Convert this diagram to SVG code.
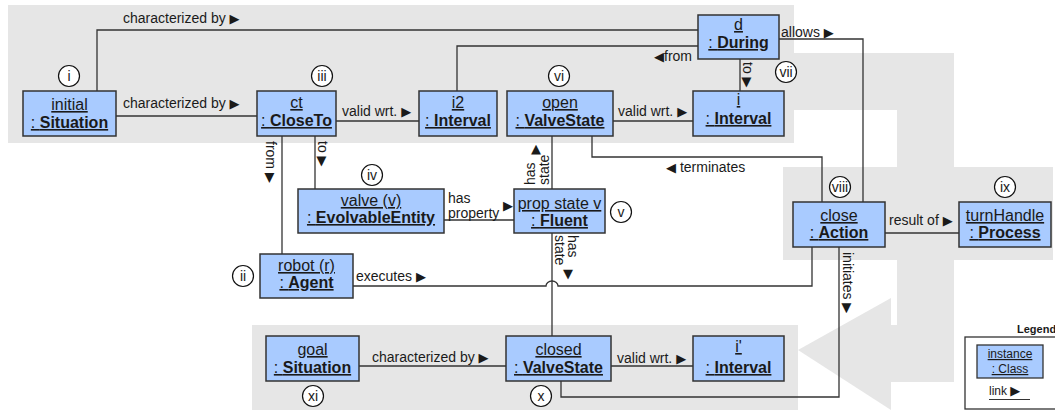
<svg xmlns="http://www.w3.org/2000/svg" width="1055" height="412" viewBox="0 0 1055 412">
<style>
text { font-family: "Liberation Sans", Arial, sans-serif; fill: #1a1a1a; }
.node rect { fill: #a9cbff; stroke: #333; stroke-width: 1.5; }
.node text { font-size: 16px; text-anchor: middle; text-decoration: underline; }
.node .cls { font-weight: bold; }
.node .cls tspan { font-weight: normal; }
.conn path { fill: none; stroke: #333; stroke-width: 1.3; }
.lbl { font-size: 14px; }
.ar { font-family: "DejaVu Sans", sans-serif; font-size: 13px; }
.tag circle { fill: #fff; stroke: #111; stroke-width: 1.2; }
.tag text { font-size: 14px; text-anchor: middle; }
</style>
<g id="background" fill="#e6e6e6">
<rect x="8" y="5" width="786" height="138"/>
<rect x="794" y="53" width="160" height="57"/>
<rect x="897" y="110" width="57" height="272"/>
<rect x="783" y="167" width="270" height="93"/>
<rect x="891" y="325" width="63" height="57"/>
<polygon points="798,350 891,298 891,410"/>
<rect x="252" y="325" width="546" height="85"/>
</g>
<g id="connectors" class="conn">
<path d="M97,91 V30 H698"/>
<path d="M116,116 H257"/>
<path d="M336,121 H419"/>
<path d="M457,91 V46 H698"/>
<path d="M613,121 H693"/>
<path d="M740,59 V91"/>
<path d="M779,39 H863 V202"/>
<path d="M592,136 V157 H822 V202"/>
<path d="M282,136 V254"/>
<path d="M315,136 V189"/>
<path d="M444,220 H514"/>
<path d="M552,136 V189"/>
<path d="M552,233 V336"/>
<path d="M353,286 H546 A6,5 0 0 1 558,286 H812 V247"/>
<path d="M885,233 H959"/>
<path d="M839,247 V397 H561 V381"/>
<path d="M359,366 H506"/>
<path d="M611,366 H693"/>
</g>
<g id="labels">
<text class="lbl" x="123" y="23">characterized by <tspan class="ar">▶</tspan></text>
<text class="lbl" x="123" y="108">characterized by <tspan class="ar">▶</tspan></text>
<text class="lbl" x="342" y="116">valid wrt. <tspan class="ar">▶</tspan></text>
<text class="lbl" x="618" y="116">valid wrt. <tspan class="ar">▶</tspan></text>
<text class="lbl" x="692" y="61" text-anchor="end"><tspan class="ar">◀</tspan>from</text>
<text class="lbl" x="781" y="37">allows <tspan class="ar">▶</tspan></text>
<text class="lbl" x="666" y="172"><tspan class="ar">◀</tspan> terminates</text>
<text class="lbl" x="448" y="203">has</text>
<text class="lbl" x="448" y="218">property</text>
<text class="ar" x="503" y="210">▶</text>
<text class="lbl" x="356" y="281">executes <tspan class="ar">▶</tspan></text>
<text class="lbl" x="889" y="225">result of <tspan class="ar">▶</tspan></text>
<text class="lbl" x="372" y="362">characterized by <tspan class="ar">▶</tspan></text>
<text class="lbl" x="617" y="363">valid wrt. <tspan class="ar">▶</tspan></text>
<text class="lbl" transform="translate(266,141) rotate(90)">from <tspan class="ar">▶</tspan></text>
<text class="lbl" transform="translate(318,141) rotate(90)">to <tspan class="ar">▶</tspan></text>
<text class="lbl" transform="translate(743,62) rotate(90)">to <tspan class="ar">▶</tspan></text>
<text class="lbl" transform="translate(843,252) rotate(90)">initiates <tspan class="ar">▶</tspan></text>
<text class="lbl" transform="translate(535,185) rotate(-90)"><tspan x="0" y="0">has</tspan><tspan x="0" y="14">state</tspan></text>
<text class="ar" x="536" y="153" text-anchor="middle">▲</text>
<text class="lbl" transform="translate(568,235) rotate(90)"><tspan x="0" y="0">has</tspan><tspan x="0" y="13">state</tspan></text>
<text class="ar" x="568" y="278" text-anchor="middle">▼</text>
</g>
<g id="n-initial" class="node"><rect x="23" y="91" width="93" height="45"/><text x="69.5" y="110">initial</text><text class="cls" x="69.5" y="128"><tspan>: </tspan>Situation</text></g>
<g id="n-ct" class="node"><rect x="257" y="91" width="79" height="45"/><text x="296.5" y="108">ct</text><text class="cls" x="296.5" y="126"><tspan>: </tspan>CloseTo</text></g>
<g id="n-i2" class="node"><rect x="419" y="91" width="78" height="45"/><text x="458" y="108">i2</text><text class="cls" x="458" y="126"><tspan>: </tspan>Interval</text></g>
<g id="n-open" class="node"><rect x="507" y="91" width="106" height="45"/><text x="560" y="108">open</text><text class="cls" x="560" y="126"><tspan>: </tspan>ValveState</text></g>
<g id="n-i" class="node"><rect x="693" y="91" width="91" height="45"/><text x="738.5" y="105">i</text><text class="cls" x="738.5" y="124"><tspan>: </tspan>Interval</text></g>
<g id="n-d" class="node"><rect x="698" y="15" width="81" height="44"/><text x="738.5" y="30">d</text><text class="cls" x="738.5" y="48"><tspan>: </tspan>During</text></g>
<g id="n-valve" class="node"><rect x="298" y="189" width="146" height="44"/><text x="371" y="206">valve (v)</text><text class="cls" x="371" y="223"><tspan>: </tspan>EvolvableEntity</text></g>
<g id="n-fluent" class="node"><rect x="514" y="189" width="91" height="44"/><text x="559.5" y="209">prop state v</text><text class="cls" x="559.5" y="226"><tspan>: </tspan>Fluent</text></g>
<g id="n-robot" class="node"><rect x="260" y="254" width="93" height="44"/><text x="306.5" y="271">robot (r)</text><text class="cls" x="306.5" y="288"><tspan>: </tspan>Agent</text></g>
<g id="n-close" class="node"><rect x="793" y="202" width="92" height="45"/><text x="839" y="221">close</text><text class="cls" x="839" y="238"><tspan>: </tspan>Action</text></g>
<g id="n-turnHandle" class="node"><rect x="959" y="202" width="92" height="45"/><text x="1005" y="221">turnHandle</text><text class="cls" x="1005" y="238"><tspan>: </tspan>Process</text></g>
<g id="n-goal" class="node"><rect x="266" y="336" width="93" height="45"/><text x="312.5" y="355">goal</text><text class="cls" x="312.5" y="373"><tspan>: </tspan>Situation</text></g>
<g id="n-closed" class="node"><rect x="506" y="336" width="105" height="45"/><text x="558.5" y="355">closed</text><text class="cls" x="558.5" y="373"><tspan>: </tspan>ValveState</text></g>
<g id="n-iprime" class="node"><rect x="693" y="336" width="91" height="45"/><text x="738.5" y="352">i'</text><text class="cls" x="738.5" y="373"><tspan>: </tspan>Interval</text></g>
<g id="tags" class="tag">
<g id="t-i"><circle cx="69" cy="76" r="10.5"/><text x="69" y="81">i</text></g>
<g id="t-ii"><circle cx="243" cy="276" r="10.5"/><text x="243" y="281">ii</text></g>
<g id="t-iii"><circle cx="322" cy="76" r="10.5"/><text x="322" y="81">iii</text></g>
<g id="t-iv"><circle cx="372" cy="175" r="10.5"/><text x="372" y="180">iv</text></g>
<g id="t-v"><circle cx="621" cy="212" r="10.5"/><text x="621" y="217">v</text></g>
<g id="t-vi"><circle cx="559" cy="76" r="10.5"/><text x="559" y="81">vi</text></g>
<g id="t-vii"><circle cx="786" cy="72" r="10.5"/><text x="786" y="77">vii</text></g>
<g id="t-viii"><circle cx="840" cy="187" r="10.5"/><text x="840" y="192">viii</text></g>
<g id="t-ix"><circle cx="1005" cy="187" r="10.5"/><text x="1005" y="192">ix</text></g>
<g id="t-x"><circle cx="541" cy="396" r="10.5"/><text x="541" y="401">x</text></g>
<g id="t-xi"><circle cx="313" cy="396" r="10.5"/><text x="313" y="401">xi</text></g>
</g>
<g id="legend">
<text x="1017" y="333" font-size="11" font-weight="bold">Legend</text>
<rect x="965" y="337" width="100" height="72" fill="#fff" stroke="#333" stroke-width="1.3"/>
<rect x="977" y="345" width="66" height="33" fill="#a9cbff" stroke="#333" stroke-width="1.3"/>
<text x="1010" y="358" font-size="12" text-anchor="middle" text-decoration="underline">instance</text>
<text x="1010" y="373" font-size="12" text-anchor="middle" text-decoration="underline">: Class</text>
<text x="989" y="395" font-size="12">link <tspan class="ar">▶</tspan></text>
<line x1="989" y1="399.5" x2="1030" y2="399.5" stroke="#333" stroke-width="1"/>
</g>
</svg>
